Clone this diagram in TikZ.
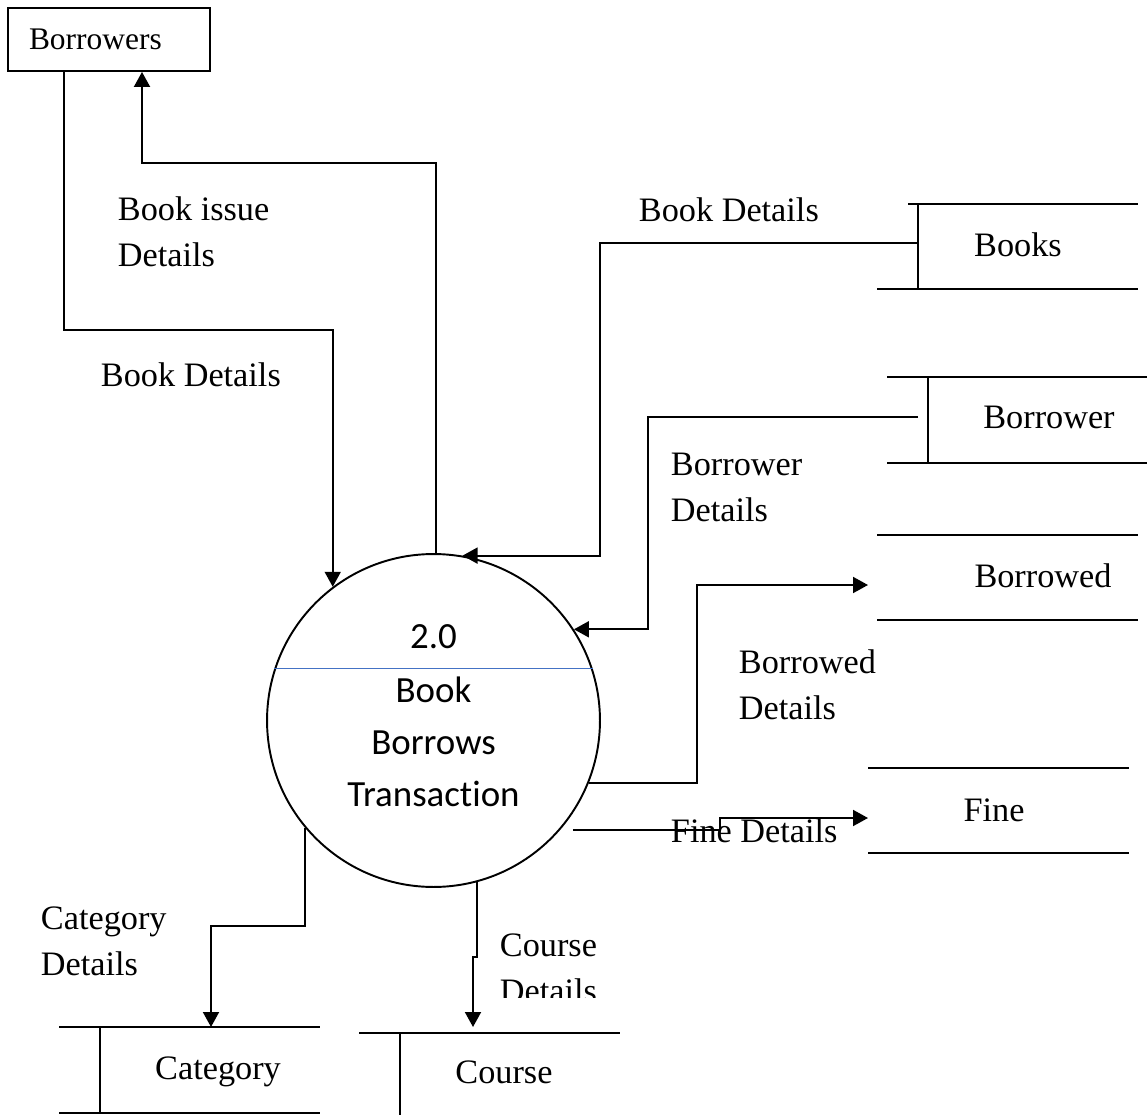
\documentclass[tikz,border=0pt]{standalone}
\usepackage{fontspec}
\setmainfont{Liberation Serif}
\newfontfamily\calibri[Ligatures=NoCommon]{Carlito}
\usetikzlibrary{arrows.meta}
\definecolor{chordblue}{RGB}{68,114,196}

\begin{document}
\begin{tikzpicture}[x=0.02cm,y=-0.02cm,line width=1.1pt,
  >={Triangle[length=3mm,width=3.2mm]},
  flow/.style={->},
  lbl/.style={anchor=north west,inner sep=0pt,align=left,font=\fontsize{19.5}{26.1}\selectfont},
  store/.style={anchor=base,inner sep=0pt,font=\fontsize{19.5}{26.1}\selectfont},
  entity/.style={draw,minimum width=4.04cm,minimum height=1.26cm,text width=3.2cm,
    inner xsep=0.42cm,inner ysep=0pt,align=left,font=\fontsize{17.9}{22}\selectfont},
  proc/.style={draw,circle,minimum size=6.66cm,inner sep=0pt},
  chord/.style={chordblue,line width=0.8pt},
  ptext/.style={inner sep=0pt,align=center,font=\calibri\fontsize{21}{29.5}\selectfont}]
\useasboundingbox (0,0) rectangle (1147,1115);

% external entity
\node[entity] (brws) at (109,39.5) {Borrowers};
\coordinate (brws-out) at (brws.south -| 64,0);
\coordinate (brws-in) at (brws.south -| 142,0);

% process 2.0
\node[proc] (P) at (433.5,720.5) {};
\draw[chord] (P.162) -- (P.18);
\node[ptext,anchor=base] (pid) at (433.5,648) {2.0};
\node[ptext,anchor=north] (pname) at (433.5,676) {Book\\Borrows\\Transact\kern0pt ion};

% data stores
\draw (908,204) -- (1138,204) (918,204) -- (918,289) (877,289) -- (1138,289);
\node[store] (books) at (1018,256) {Books};
\coordinate (books-w) at (918,243);

\draw (887,377) -- (1147,377) (928,377) -- (928,463) (887,463) -- (1147,463);
\node[store] (brwr) at (1049,428) {Borrower};
\coordinate (brwr-w) at (918,417);

\draw (877,535) -- (1138,535) (877,620) -- (1138,620);
\node[store] (bwd) at (1043,587) {Borrowed};
\coordinate (bwd-w) at (868,585);

\draw (868,768) -- (1129,768) (868,853) -- (1129,853);
\node[store] (fine) at (994,821) {Fine};
\coordinate (fine-w) at (868,818);

\draw (59,1027) -- (320,1027) (100,1027) -- (100,1113) (59,1113) -- (320,1113);
\node[store] (cat) at (218,1079) {Category};
\coordinate (cat-n) at (211,1027);

\draw (359,1033) -- (620,1033) (400,1033) -- (400,1115);
\node[store] (crs) at (504,1083) {Course};
\coordinate (crs-n) at (473,1027);

% flows
\draw[flow] (brws-out) |- (P.127 |- 0,330) -- (P.127);
\draw[flow] (P.89) |- (brws-in |- 0,163) -- (brws-in);
\draw[flow] (books-w) -| (600,400) |- (P.80);
\draw[flow] (brwr-w) -| (648,500) |- (P.33);
\draw[flow] (P.-22) -| (697,700) |- (bwd-w);
\draw[flow] ([xshift=0.26cm]P.-41) -| (720,818) -- (fine-w);
\draw[flow] (P.220) |- (cat-n |- 0,926) -- (cat-n);
\draw[flow] (P.-75) |- (crs-n |- 0,957) -- (crs-n);

% flow labels
\node[lbl] (l-issue) at (117,196) {Book issue\\Details};
\node[lbl] (l-bd1) at (100,362) {Book Details};
\node[lbl] (l-bd2) at (638,197) {Book Details};
\node[lbl] (l-brwr) at (670,452) {Borrower\\Details};
\node[lbl] (l-bwd) at (738,649) {Borrowed\\Details};
\node[lbl] (l-fine) at (670,818) {Fine Details};
\node[lbl] (l-cat) at (40,906) {Category\\Details};
\begin{scope}
  \clip (480,900) rectangle (640,997);
  \node[lbl] (l-crs) at (499,933) {Course\\Details};
\end{scope}
\end{tikzpicture}
\end{document}
